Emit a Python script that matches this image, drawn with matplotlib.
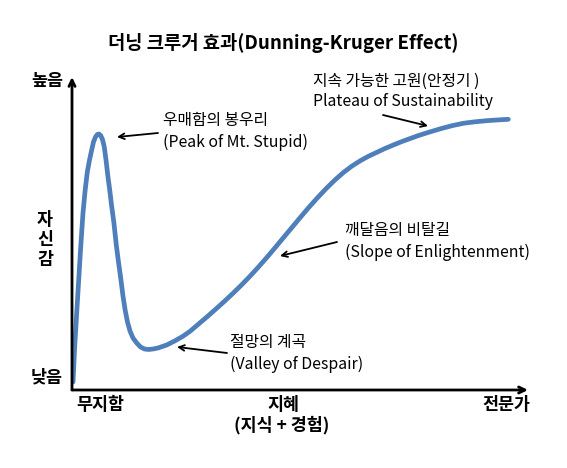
import matplotlib
matplotlib.use("Agg")
import matplotlib.pyplot as plt

plt.rcParams['font.family'] = ['Noto Sans CJK KR', 'DejaVu Sans']

# 곡선 데이터 (지혜 0~100, 자신감 0~100), 그림에서 읽은 값
knowledge = [0.22, 0.59, 1.03, 1.47, 1.91, 2.41, 2.89, 3.36, 3.84, 4.32,
             4.71, 5.15, 5.55, 5.92, 6.29, 6.69, 7.08, 7.46, 7.89, 8.33,
             8.66, 9.17, 9.71, 10.20, 10.68, 11.18, 11.69, 12.17, 12.72, 13.38,
             14.19, 15.02, 15.90, 16.78, 17.76, 18.86,
             20.77, 22.59, 24.34, 25.88, 28.07, 29.82, 31.73, 33.55, 35.37, 37.17,
             39.04, 40.79, 42.70, 44.52, 46.34, 48.14, 50.00, 51.75, 53.66, 55.86,
             57.68, 59.50, 61.29, 63.16, 64.91, 66.82, 68.64, 70.46, 72.26, 74.12,
             75.88, 77.79, 80.70, 83.33, 85.81, 88.38, 90.94, 93.42, 95.68]
confidence = [2.56, 13.74, 24.60, 35.14, 45.69, 56.55, 63.90, 69.65, 73.48, 76.68,
              79.23, 80.83, 81.63, 81.79, 81.31, 80.03, 77.64, 73.48, 68.05, 63.26,
              59.11, 53.67, 46.33, 40.89, 35.78, 30.03, 25.24, 21.73, 18.85, 16.61,
              15.02, 13.74, 13.10, 12.94, 13.10, 13.42,
              14.38, 15.72, 17.19, 18.75, 21.47, 23.64, 26.10, 28.50, 30.99, 33.55,
              36.36, 39.14, 42.30, 45.43, 48.63, 51.76, 55.02, 58.02, 61.15, 64.54,
              67.12, 69.46, 71.44, 73.19, 74.60, 75.91, 77.16, 78.27, 79.33, 80.32,
              81.25, 82.14, 83.42, 84.44, 85.21, 85.69, 86.04, 86.29, 86.48]

title = "더닝 크루거 효과(Dunning-Kruger Effect)"
stage_ko = ["우매함의 봉우리", "절망의 계곡", "깨달음의 비탈길", "지속 가능한 고원(안정기 )"]
stage_en = ["(Peak of Mt. Stupid)", "(Valley of Despair)", "(Slope of Enlightenment)",
            "Plateau of Sustainability"]

W, H = 567, 468
fig = plt.figure(figsize=(W / 100, H / 100), dpi=100)
ax = fig.add_axes([72 / W, (H - 390) / H, (528 - 72) / W, (390 - 77) / H])
ax.set_xlim(0, 100)
ax.set_ylim(0, 100)
ax.axis('off')

ax.plot(knowledge, confidence, color='#4f7fba', lw=3.4, solid_capstyle='round',
        solid_joinstyle='round')

# 축 화살표
for tip in [(0, 1.0), (1.0, 0)]:
    ax.annotate('', xy=tip, xytext=(0, 0), xycoords='axes fraction',
                arrowprops=dict(arrowstyle='->,head_width=0.22,head_length=0.45',
                                color='black', lw=2.0, shrinkA=0, shrinkB=0))


def px(x, y):
    return (x / W, 1 - y / H)


fig.text(*px(283, 43), title, ha='center', va='center', fontsize=13.5, fontweight='bold')

# 축 라벨
lab = dict(ha='center', va='center', fontsize=12.5, fontweight='bold')
fig.text(*px(47, 81), "높음", **lab)
fig.text(*px(47, 377), "낮음", **lab)
fig.text(*px(45, 240), "자\n신\n감", linespacing=1.15, **lab)
fig.text(*px(100, 405), "무지함", **lab)
fig.text(*px(283, 405), "지혜", **lab)
fig.text(*px(282, 425), "(지식 + 경험)", **lab)
fig.text(*px(506, 405), "전문가", **lab)

# 단계 설명
text_pos = [(163, 121), (230, 343), (345, 231), (313, 81)]
arrows = [((158, 133), (117, 137)), ((227, 353), (177, 347)),
          ((337, 242), (280, 256)), ((383, 115), (428, 126))]
for (tx, ty), ko, en in zip(text_pos, stage_ko, stage_en):
    fig.text(*px(tx, ty), ko, ha='left', va='center', fontsize=11.4)
    fig.text(*px(tx, ty + 21), en, ha='left', va='center', fontsize=11.4)

for (start, end) in arrows:
    ax.annotate('', xy=px(*end), xytext=px(*start), xycoords='figure fraction',
                textcoords='figure fraction',
                arrowprops=dict(arrowstyle='->,head_width=0.2,head_length=0.4',
                                color='black', lw=1.3, shrinkA=0, shrinkB=0))

fig.savefig('out.png', dpi=100)
